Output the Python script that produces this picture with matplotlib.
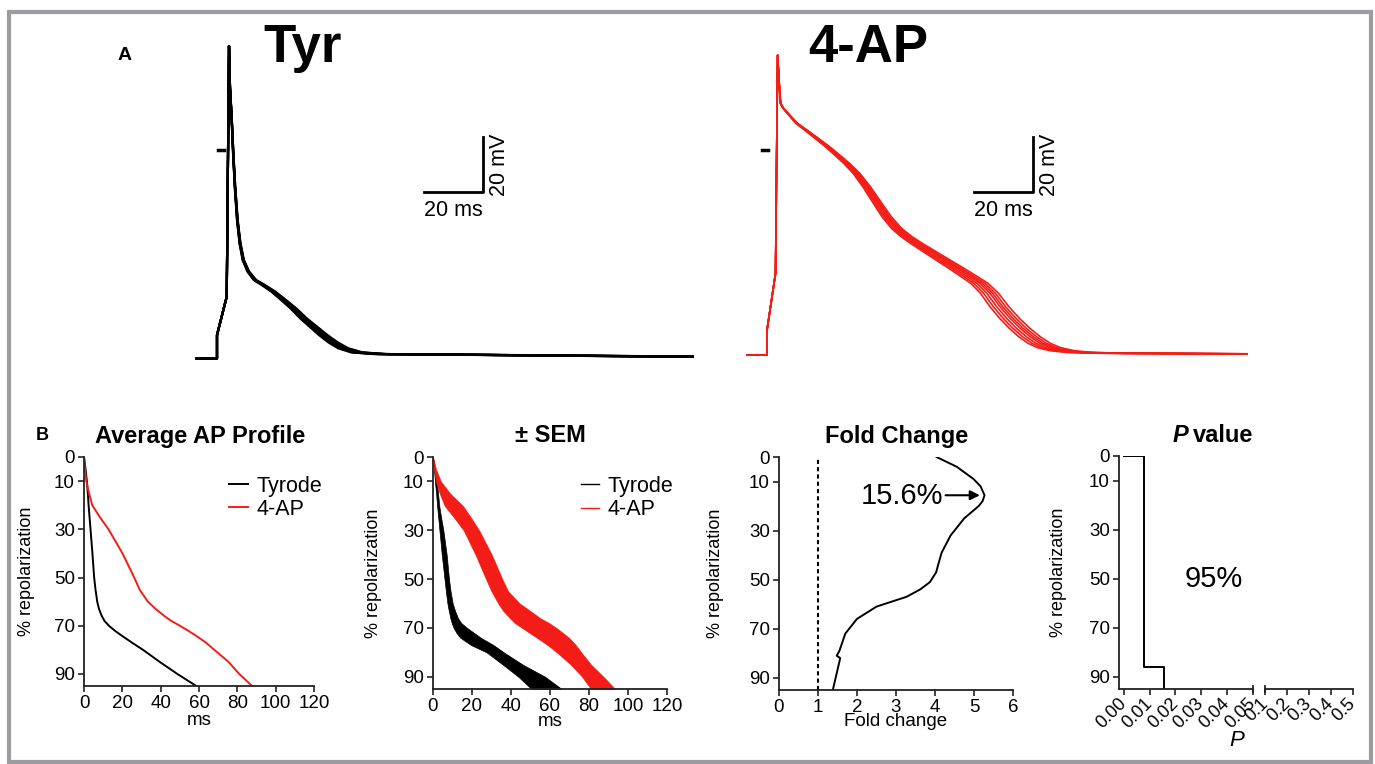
import matplotlib
matplotlib.use("Agg")
import matplotlib.pyplot as plt
from matplotlib.patches import Rectangle
import numpy as np

plt.rcParams['font.family'] = ['Liberation Sans', 'DejaVu Sans']

W, H = 1375, 764
RED = '#f41c16'

# ---------- A: action potential traces (time in ms, voltage in mV) ----------
tyr_t = [-6.9, 0, 0, 3.3, 4.07, 4.4, 5.0, 5.5, 6.1, 6.9, 7.8, 8.9, 10.6, 12.9, 15.7,
         19.1, 22.5, 25.9, 29.3, 32.6, 36, 39.4, 42.8, 47.4, 55.3, 89.2, 175]
tyr_v = [-75.8, -75.8, -67.3, -53.3, 37.8, 23, 10.9, -1.2, -13.3, -25.5, -33.9, -40,
         -44.2, -47.3, -49.1, -51.5, -54.5, -57.6, -61.2, -64.2, -67.3, -70, -72.1,
         -73.6, -74.2, -74.5, -75.3]
tyr_peak_t = 4.07
tyr_apd_scale = [0.955, 0.97, 0.985, 1.0, 1.015, 1.03, 1.045]   # spread between recordings

ap_t = [-6.8, 0, 0, 2.9, 3.6, 4.2, 4.6, 5.5, 7.8, 10.1, 13.5, 16.8, 20.2, 23.6, 27,
        30.4, 33.8, 37.2, 40.6, 44, 47.4, 50.7, 55.3, 59.8, 64.3, 68.8, 72.2, 75.6,
        79, 82.4, 85.8, 89.2, 92.5, 95.9, 100.4, 106.1, 117.4, 175]
ap_v = [-74.5, -74.5, -65.5, -44.8, 34.5, 23, 17, 15.2, 12.4, 9.7, 7.0, 4.3, 1.5,
        -1.6, -4.8, -8.5, -13.3, -18.8, -24.2, -28.5, -31.5, -33.9, -37, -40, -43,
        -46.1, -48.5, -52.1, -57, -61.2, -64.8, -67.9, -70.3, -71.9, -73, -73.6,
        -73.9, -74.2]
ap_peak_t = 3.6
ap_apd_scale = [0.955, 0.97, 0.985, 1.0, 1.012, 1.025, 1.04]

zero_mark_tyr = [0.3, 2.3]
zero_mark_ap = [-1.7, 0.3]

# ---------- B: repolarization profiles ----------
repol = [0, 5, 10, 15, 20, 25, 30, 40, 50, 55, 60, 63, 66, 68, 70, 72, 74, 77, 80, 85, 90, 95]
tyr_mean = [0, 0.8, 1.5, 2.0, 2.4, 2.9, 3.4, 4.4, 5.3, 6.0, 6.9, 7.8, 9.3, 10.7, 13.0,
            16.0, 19.5, 25.0, 30.8, 39.5, 48.7, 58.6]
ap_mean = [0, 0.5, 1.2, 2.6, 4.3, 8.3, 12.8, 20.1, 26.2, 29, 33.3, 37.3, 42, 45.5, 50,
           54.2, 58.2, 63.6, 68, 75.4, 81, 87.7]

tyr_lo = [0, 0.5, 1.0, 1.6, 2.1, 2.7, 3.3, 4.5, 5.9, 6.6, 7.4, 8.1, 8.9, 9.6, 10.6,
          12.0, 14.0, 19.5, 27.5, 35.8, 43.8, 50.5]
tyr_hi = [0, 1.0, 1.9, 2.6, 3.2, 4.2, 5.3, 7.0, 8.2, 9.0, 10.1, 11.3, 12.8, 14.5,
          17.5, 21, 24.5, 31, 36.3, 46, 57.5, 66]
ap_lo = [0, 0.6, 1.5, 3.5, 6.0, 11, 15.7, 21.8, 27.2, 30, 33.5, 36, 39.5, 42, 45.8,
         49.5, 53.3, 58.8, 63.5, 70.7, 76.5, 81]
ap_hi = [0, 1.5, 4.0, 8.8, 15.3, 19.6, 23.6, 30.1, 35.5, 38.5, 44.5, 49.8, 55, 59.5,
         63.3, 66.5, 69.7, 73.2, 76, 81, 87.4, 93.4]

fold_repol = [0, 4, 9, 12, 15.6, 18, 20, 25, 32, 39, 44, 47, 51, 54, 57, 61, 66, 72,
              79, 81, 82, 95]
fold_val = [4.04, 4.56, 4.99, 5.17, 5.27, 5.22, 5.12, 4.75, 4.4, 4.17, 4.08, 4.03,
            3.87, 3.62, 3.27, 2.5, 2.0, 1.7, 1.55, 1.48, 1.57, 1.38]
fold_peak = 15.6

p_repol = [0, 0, 86, 86, 95]
p_val = [0.0, 0.0078, 0.0078, 0.0156, 0.0156]
p_ticks_lo = [0.00, 0.01, 0.02, 0.03, 0.04, 0.05]
p_ticks_hi = [0.1, 0.2, 0.3, 0.4, 0.5]


def box(l, t, r, b):
    return [l / W, 1 - b / H, (r - l) / W, (b - t) / H]


def fx(px):
    return px / W


def fy(py):
    return 1 - py / H


fig = plt.figure(figsize=(W / 100, H / 100), dpi=100)
fig.patches.append(Rectangle((9 / W, 2 / H), 1362 / W, 750 / H, transform=fig.transFigure,
                             fill=False, edgecolor='#9b9ba0', linewidth=3))

# ---------- panel A ----------
PX_MS, PX_MV = 2.95, 2.75


def trace_axes(l, r, t0_px):
    ax = fig.add_axes(box(l, 30, r, 370))
    ax.set_xlim((l - t0_px) / PX_MS, (r - t0_px) / PX_MS)
    ax.set_ylim((150 - 370) / PX_MV, (150 - 30) / PX_MV)
    ax.axis('off')
    return ax


def scale_bar(ax):
    ax.plot([70, 90, 90], [-15.3, -15.3, 4.7], color='black', lw=2)
    ax.text(80, -18.2, '20 ms', ha='center', va='top', fontsize=15.5)
    ax.text(92.2, -5.3, '20 mV', ha='left', va='center', rotation=90, fontsize=15.5)


axA1 = trace_axes(190, 694, 217)
t = np.array(tyr_t)
for k in tyr_apd_scale:
    tt = np.where(t > tyr_peak_t, tyr_peak_t + (t - tyr_peak_t) * k, t)
    axA1.plot(tt, tyr_v, color='black', lw=1.6)
axA1.plot(zero_mark_tyr, [0, 0], color='black', lw=2.5)
scale_bar(axA1)

axA2 = trace_axes(740, 1248, 767)
t = np.array(ap_t)
for k in ap_apd_scale:
    tt = np.where(t > ap_peak_t, ap_peak_t + (t - ap_peak_t) * k, t)
    axA2.plot(tt, ap_v, color=RED, lw=1.2)
axA2.plot(zero_mark_ap, [0, 0], color='black', lw=2.5)
scale_bar(axA2)

fig.text(fx(125), fy(55), 'A', fontsize=14, fontweight='bold', ha='center', va='center')
fig.text(fx(303), fy(48), 'Tyr', fontsize=38, fontweight='bold', ha='center', va='center')
fig.text(fx(868), fy(48), '4-AP', fontsize=38, fontweight='bold', ha='center', va='center')


# ---------- panel B ----------
def style(ax):
    for s in ['top', 'right']:
        ax.spines[s].set_visible(False)
    for s in ['left', 'bottom']:
        ax.spines[s].set_linewidth(1.3)
        ax.spines[s].set_color('#222222')
    ax.tick_params(direction='out', length=4.5, width=1.2, labelsize=13.5, pad=2,
                   color='#222222')
    ax.set_ylim(95, 0)
    ax.set_yticks([0, 10, 30, 50, 70, 90])
    ax.set_ylabel('% repolarization', fontsize=13)


ax1 = fig.add_axes(box(84, 457, 314, 686))
style(ax1)
ax1.plot(tyr_mean, repol, color='black', lw=1.4, label='Tyrode')
ax1.plot(ap_mean, repol, color=RED, lw=1.4, label='4-AP')
ax1.set_xlim(0, 120)
ax1.set_xticks(range(0, 121, 20))
ax1.set_xlabel('ms', fontsize=13.5)
ax1.xaxis.set_label_coords(0.5, -0.115)
ax1.yaxis.set_label_coords(-0.215, 0.5)
ax1.legend(loc='upper left', bbox_to_anchor=(0.585, 0.965), frameon=False, fontsize=15.5,
           handlelength=0.85, handletextpad=0.4, labelspacing=0.1, borderpad=0)

ax2 = fig.add_axes(box(433, 457, 667, 689))
style(ax2)
ax2.fill_betweenx(repol, tyr_lo, tyr_hi, color='black', lw=0.5)
ax2.fill_betweenx(repol, ap_lo, ap_hi, color=RED, lw=0.5)
ax2.plot([], [], color='black', lw=1, label='Tyrode')
ax2.plot([], [], color=RED, lw=1, label='4-AP')
ax2.set_xlim(0, 120)
ax2.set_xticks(range(0, 121, 20))
ax2.set_xlabel('ms', fontsize=13.5)
ax2.xaxis.set_label_coords(0.5, -0.105)
ax2.yaxis.set_label_coords(-0.22, 0.5)
ax2.legend(loc='upper left', bbox_to_anchor=(0.585, 0.965), frameon=False, fontsize=15.5,
           handlelength=0.85, handletextpad=0.4, labelspacing=0.1, borderpad=0)

ax3 = fig.add_axes(box(779, 457, 1013, 690))
style(ax3)
ax3.axvline(1, color='black', lw=1.5, ls=(0, (2, 1.5)))
ax3.plot(fold_val, fold_repol, color='black', lw=1.4)
ax3.set_xlim(0, 6)
ax3.set_xticks(range(0, 7))
ax3.set_xlabel('Fold change', fontsize=13.5)
ax3.xaxis.set_label_coords(0.5, -0.1)
ax3.yaxis.set_label_coords(-0.235, 0.5)
ax3.annotate('', xy=(5.15, fold_peak), xytext=(4.27, fold_peak),
             arrowprops=dict(arrowstyle='-|>', color='black', lw=1.5, mutation_scale=14,
                             shrinkA=0, shrinkB=0))
ax3.text(4.2, fold_peak + 0.5, '15.6%', ha='right', va='center', fontsize=21)

ax4 = fig.add_axes(box(1119, 456, 1253, 689))
style(ax4)
ax4.plot(p_val, p_repol, color='black', lw=1.4)
ax4.set_xlim(-0.0019, 0.0501)
ax4.set_xticks(p_ticks_lo)
ax4.set_xticklabels(['%.2f' % v for v in p_ticks_lo])
plt.setp(ax4.get_xticklabels(), rotation=45, ha='right', va='center',
         rotation_mode='anchor', fontsize=13)
ax4.tick_params(axis='x', pad=4)
ax4.yaxis.set_label_coords(-0.39, 0.5)
ax4.text(0.035, 50, '95%', ha='center', va='center', fontsize=21)

ax5 = fig.add_axes(box(1265, 456, 1353, 689))
style(ax5)
ax5.spines['left'].set_visible(False)
ax5.tick_params(axis='y', left=False, labelleft=False)
ax5.set_ylabel('')
ax5.set_xlim(0.098, 0.501)
ax5.set_xticks(p_ticks_hi)
ax5.set_xticklabels(['%.1f' % v for v in p_ticks_hi])
plt.setp(ax5.get_xticklabels(), rotation=45, ha='right', va='center',
         rotation_mode='anchor', fontsize=13)
ax5.tick_params(axis='x', pad=4)

# axis break marks
ax4.plot([1, 1], [-0.015, 0.015], transform=ax4.transAxes, color='#222222', lw=1.3, clip_on=False)
ax5.plot([0, 0], [-0.015, 0.015], transform=ax5.transAxes, color='#222222', lw=1.3, clip_on=False)

fig.text(fx(1237), fy(741), 'P', fontsize=16, fontstyle='italic', ha='center', va='center')

# panel B titles
fig.text(fx(42), fy(436), 'B', fontsize=13, fontweight='bold', ha='center', va='center')
fig.text(fx(200), fy(436), 'Average AP Profile', fontsize=17, fontweight='bold', ha='center', va='center')
fig.text(fx(550), fy(436), '\u00b1 SEM', fontsize=17, fontweight='bold', ha='center', va='center')
fig.text(fx(897), fy(436), 'Fold Change', fontsize=17, fontweight='bold', ha='center', va='center')
fig.text(fx(1188), fy(436), 'P', fontsize=17, fontweight='bold', fontstyle='italic', ha='right', va='center')
fig.text(fx(1193), fy(436), 'value', fontsize=17, fontweight='bold', ha='left', va='center')

fig.savefig('out.png', dpi=100)
